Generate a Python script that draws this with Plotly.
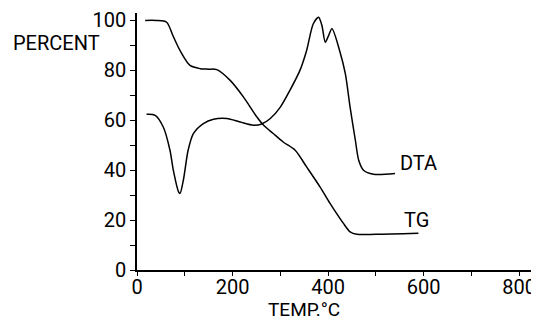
import plotly.graph_objects as go

# Data
tg_x = [17, 40, 62, 75, 90, 111, 132, 150, 167, 195, 223, 251, 265, 285, 306, 331, 355, 383, 404, 432, 446, 460, 500, 589]
tg_y = [100, 100, 99.3, 94, 88, 82, 80.7, 80.5, 80.3, 76, 69.3, 61.3, 58, 54.7, 51.3, 48, 41.3, 33.3, 26.7, 18.7, 15.3, 14.3, 14.3, 14.7]

dta_x = [20, 38, 55, 69, 76, 87, 90, 97, 107, 118, 139, 160, 188, 216, 244, 261, 279, 300, 320, 341, 355, 369, 380, 387, 394, 400, 408, 425, 436, 446, 457, 464, 474, 495, 540]
dta_y = [62.4, 62, 57.3, 48, 40, 31.3, 30.7, 36, 48, 54.7, 58.7, 60.4, 60.7, 59.3, 58, 58.5, 60.7, 65.3, 72, 80, 88, 98.7, 101.3, 98, 91.3, 93.5, 96.7, 87.3, 78.7, 65.3, 52, 44, 40, 38.4, 38.7]

y_ticks = [0, 10, 20, 30, 40, 50, 60, 70, 80, 90, 100]
y_labels = ["0", "", "20", "", "40", "", "60", "", "80", "", "100"]
x_ticks = [0, 100, 200, 300, 400, 500, 600, 700, 800]
x_labels = ["0", "", "200", "", "400", "", "600", "", "800"]

FONT = "Roboto, Liberation Sans Narrow, sans-serif"
FS = 20

fig = go.Figure()
line = dict(color="black", width=1.5, shape="spline", smoothing=0.8)
fig.add_trace(go.Scatter(x=tg_x, y=tg_y, mode="lines", line=line, name="TG"))
fig.add_trace(go.Scatter(x=dta_x, y=dta_y, mode="lines", line=line, name="DTA"))

# page body has an 8px default margin, so the figure is offset by 8px
fig.update_layout(
    width=531, height=313,
    margin=dict(l=129, r=4, t=5, b=51),
    paper_bgcolor="white", plot_bgcolor="white",
    showlegend=False,
    font=dict(family=FONT, size=FS, color="black"),
    xaxis=dict(range=[0, 833], showgrid=False, zeroline=False, automargin=False,
               showline=True, linecolor="black", linewidth=1.5,
               ticks="outside", ticklen=4, tickwidth=1.2, tickcolor="black",
               ticklabelstandoff=-6,
               tickvals=x_ticks, ticktext=x_labels),
    yaxis=dict(range=[0, 103], showgrid=False, zeroline=False, automargin=False,
               showline=True, linecolor="black", linewidth=1.5,
               ticks="outside", ticklen=5, tickwidth=1.2, tickcolor="black",
               tickvals=y_ticks, ticktext=y_labels),
    annotations=[
        dict(text="PERCENT", xref="paper", yref="y", x=-0.2035, y=90.8,
             showarrow=False, xanchor="center", yanchor="middle", font=dict(size=FS)),
        dict(text="TEMP.°C", xref="x", yref="paper", x=350, y=-0.155, borderpad=0,
             showarrow=False, xanchor="center", yanchor="middle", font=dict(size=19)),
        dict(text="DTA", xref="x", yref="y", x=547, y=42.8,
             showarrow=False, xanchor="left", yanchor="middle", font=dict(size=FS)),
        dict(text="TG", xref="x", yref="y", x=555, y=20,
             showarrow=False, xanchor="left", yanchor="middle", font=dict(size=FS)),
    ],
)

fig.write_html("out.html")
